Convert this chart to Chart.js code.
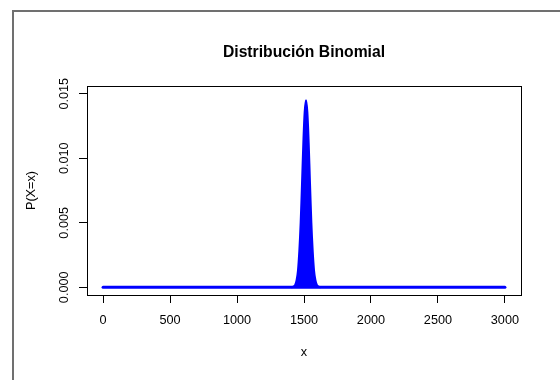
<!DOCTYPE html>
<html>
<head>
<meta charset="utf-8">
<script src="https://cdn.jsdelivr.net/npm/chart.js@4"></script>
<style>
  html, body { margin: 0; padding: 0; background: #fff; }
  canvas { display: block; }
</style>
</head>
<body>
<canvas id="chart" width="560" height="380"></canvas>
<script>
(function () {
  'use strict';

  // values (binomial pmf, n = 3000)
  var baseX = [0, 3000];
  var baseP = [0, 0];

  var peakX = [1405, 1415, 1425, 1435, 1445, 1455, 1465, 1475, 1485, 1495, 1505,
    1515, 1525, 1535, 1545, 1555, 1565, 1575, 1585, 1595, 1605, 1615, 1625];
  var peakP = [0.000003, 0.00002, 0.00007, 0.0002, 0.00056, 0.0013, 0.0028, 0.0050,
    0.0080, 0.0112, 0.0136, 0.0145, 0.0136, 0.0112, 0.0080, 0.0050, 0.0028,
    0.0013, 0.00056, 0.0002, 0.00007, 0.00002, 0.000003];

  var xTicks = [0, 500, 1000, 1500, 2000, 2500, 3000];
  var yTicks = [0, 0.005, 0.010, 0.015];

  var titleText = 'Distribución Binomial';
  var xTitle = 'x';
  var yTitle = 'P(X=x)';

  var fontFamily = '"Liberation Sans", Arial, sans-serif';
  var blue = '#0000ff';

  function points(xs, ys) {
    return xs.map(function (x, i) { return { x: x, y: ys[i] }; });
  }

  var extras = {
    id: 'extras',
    afterDraw: function (chart) {
      var c = chart.ctx;
      var a = chart.chartArea;
      var ys = chart.scales.y;
      c.save();
      // outer frame
      c.strokeStyle = '#707070';
      c.lineWidth = 2;
      c.strokeRect(13, 11, 600, 420);
      // plot box
      c.strokeStyle = '#000';
      c.lineWidth = 1;
      c.strokeRect(a.left + 0.5, a.top + 0.5, a.right - a.left, a.bottom - a.top);
      // title
      c.fillStyle = '#000';
      c.font = 'bold 15.7px ' + fontFamily;
      c.textAlign = 'center';
      c.textBaseline = 'middle';
      c.fillText(titleText, (a.left + a.right) / 2, 53);
      // y tick labels, rotated like R
      c.font = '12.7px ' + fontFamily;
      ys.ticks.forEach(function (t) {
        var py = ys.getPixelForValue(t.value);
        c.save();
        c.translate(64, py);
        c.rotate(-Math.PI / 2);
        c.fillText(t.value.toFixed(3), 0, 0);
        c.restore();
      });
      c.restore();
    }
  };

  var ctx = document.getElementById('chart').getContext('2d');

  new Chart(ctx, {
    type: 'line',
    data: {
      datasets: [
        {
          data: points(baseX, baseP),
          borderColor: blue,
          borderWidth: 3,
          borderCapStyle: 'round',
          pointRadius: 0,
          fill: false
        },
        {
          data: points(peakX, peakP),
          borderColor: blue,
          backgroundColor: blue,
          borderWidth: 2,
          tension: 0.3,
          pointRadius: 0,
          fill: 'origin'
        }
      ]
    },
    options: {
      responsive: false,
      animation: false,
      events: [],
      layout: { padding: { left: 0, top: 86, right: 39, bottom: 0 } },
      plugins: {
        legend: { display: false },
        tooltip: { enabled: false },
        title: { display: false }
      },
      scales: {
        x: {
          type: 'linear',
          min: -120,
          max: 3120,
          afterBuildTicks: function (s) {
            s.ticks = xTicks.map(function (v) { return { value: v }; });
          },
          afterFit: function (s) { s.height = 85; },
          border: { display: false },
          grid: {
            drawOnChartArea: false,
            drawTicks: true,
            tickLength: 8,
            color: '#000'
          },
          ticks: {
            color: '#000',
            padding: 10,
            maxRotation: 0,
            autoSkip: false,
            font: { family: fontFamily, size: 12.7 },
            callback: function (v) { return String(v); }
          },
          title: {
            display: true,
            text: xTitle,
            color: '#000',
            font: { family: fontFamily, size: 12.7 },
            padding: { top: 0, bottom: 20 }
          }
        },
        y: {
          type: 'linear',
          min: -0.0006,
          max: 0.0156,
          afterBuildTicks: function (s) {
            s.ticks = yTicks.map(function (v) { return { value: v }; });
          },
          afterFit: function (s) { s.width = 87; },
          border: { display: false },
          grid: {
            drawOnChartArea: false,
            drawTicks: true,
            tickLength: 8,
            color: '#000'
          },
          ticks: { display: false },
          title: {
            display: true,
            text: yTitle,
            color: '#000',
            font: { family: fontFamily, size: 12.7 },
            padding: { top: 24, bottom: 0 }
          }
        }
      }
    },
    plugins: [extras]
  });
}());
</script>
</body>
</html>
